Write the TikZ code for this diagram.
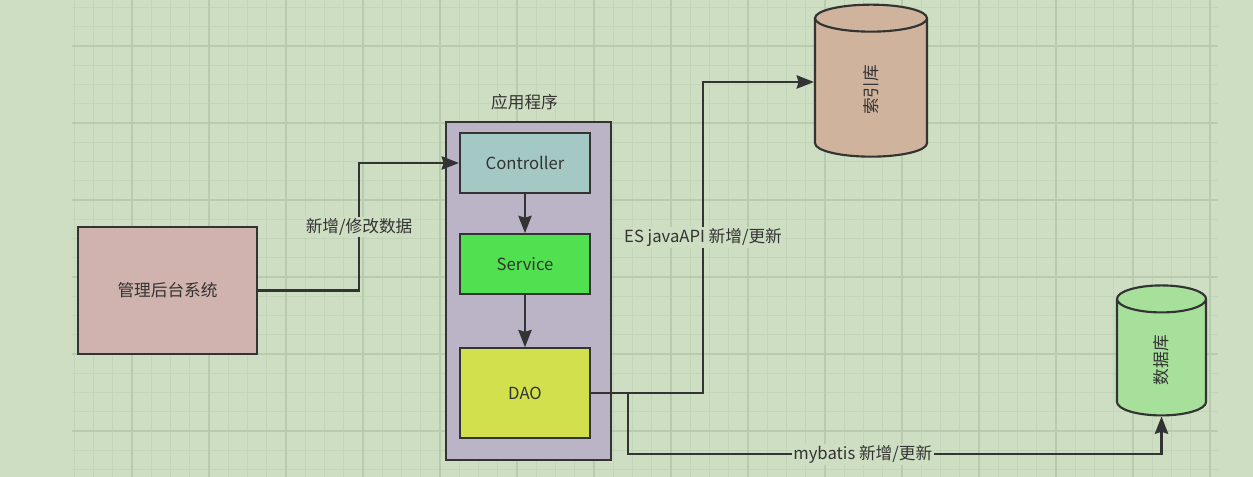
\documentclass[tikz,border=0pt]{standalone}
\usepackage{fontspec}
\setmainfont{Noto Sans CJK SC}
\usetikzlibrary{positioning, shapes.geometric, arrows.meta}
\definecolor{paperGreen}{HTML}{CEDEC3}
\definecolor{gridMinor}{HTML}{C3D5B8}
\definecolor{gridMajor}{HTML}{B9CBAE}
\definecolor{inkDark}{HTML}{333333}
\definecolor{adminPink}{HTML}{D0B2AE}
\definecolor{appLilac}{HTML}{BBB3C6}
\definecolor{ctrlTeal}{HTML}{A4C8C4}
\definecolor{svcGreen}{HTML}{50E050}
\definecolor{daoLime}{HTML}{D2E04E}
\definecolor{esTan}{HTML}{CFB39C}
\definecolor{dbGreen}{HTML}{A6E09A}

\begin{document}
\begin{tikzpicture}[x=0.75pt, y=-0.75pt, font=\fontsize{12.5}{15}\selectfont,
  box/.style={draw=inkDark, line width=1.6pt, inner sep=3pt, text=inkDark},
  layer/.style={box, minimum width=97.5pt, minimum height=45pt},
  store/.style={cylinder, draw=inkDark, line width=1.6pt, rotate=90,
    aspect=1.3, inner sep=2pt, text=inkDark},
  lbl/.style={fill=paperGreen, inner sep=1pt, text=inkDark},
  arr/.style={-{Stealth[length=13pt, width=10pt, inset=1.5pt]}, inkDark,
    line width=1.6pt}]
\useasboundingbox (0,0) rectangle (1253,477);

% paper and grid
\fill[paperGreen] (0,0) rectangle (1253,477);
\foreach \i in {0,...,59}
  \draw[gridMinor, line width=0.9pt] (74.25+19.25*\i,0) -- ++(0,477);
\foreach \j in {0,...,24}
  \draw[gridMinor, line width=0.9pt] (72,7.5+19.25*\j) -- (1218,7.5+19.25*\j);
\foreach \i in {0,...,14}
  \draw[gridMajor, line width=1.1pt] (132+77*\i,0) -- ++(0,477);
\foreach \j in {0,...,5}
  \draw[gridMajor, line width=1.1pt] (72,46+77*\j) -- (1218,46+77*\j);

% nodes
\node[box, fill=adminPink, minimum width=134.25pt, minimum height=95.25pt]
  (admin) at (167.5,290.5) {管理后台系统};
\node[box, fill=appLilac, minimum width=123.75pt, minimum height=253.5pt]
  (app) at (528.5,291) {};
\node[above=5pt of app.north, xshift=-3pt, text=inkDark] (applbl) {应用程序};
\node[layer, fill=ctrlTeal] (ctrl) at (525,163) {Controller};
\node[layer, fill=svcGreen, below=29.25pt of ctrl] (svc) {Service};
\node[layer, fill=daoLime, minimum height=67.5pt, below=39pt of svc] (dao) {DAO};
\node[store, fill=esTan, minimum width=84pt, minimum height=114pt]
  (idx) at (871,90) {索引库};
\node[store, fill=dbGreen, minimum width=66.75pt, minimum height=97.5pt]
  (db) at (1161.5,360) {数据库};

% connectors
\draw[arr] (admin.east) -- ++(101,0) |- node[lbl, pos=0.25] {新增/修改数据} (ctrl.west);
\draw[arr] (ctrl) -- (svc);
\draw[arr] (svc) -- (dao);
\draw[arr] (dao.east) -- ++(112,0) |- node[lbl, pos=0.25] {ES javaAPI 新增/更新}
  ([yshift=6pt]idx.north);
\draw[arr] (dao.east) -- ++(37,0) -- ++(0,61) -| node[lbl, pos=0.22] {mybatis 新增/更新} (db);
\end{tikzpicture}
\end{document}
